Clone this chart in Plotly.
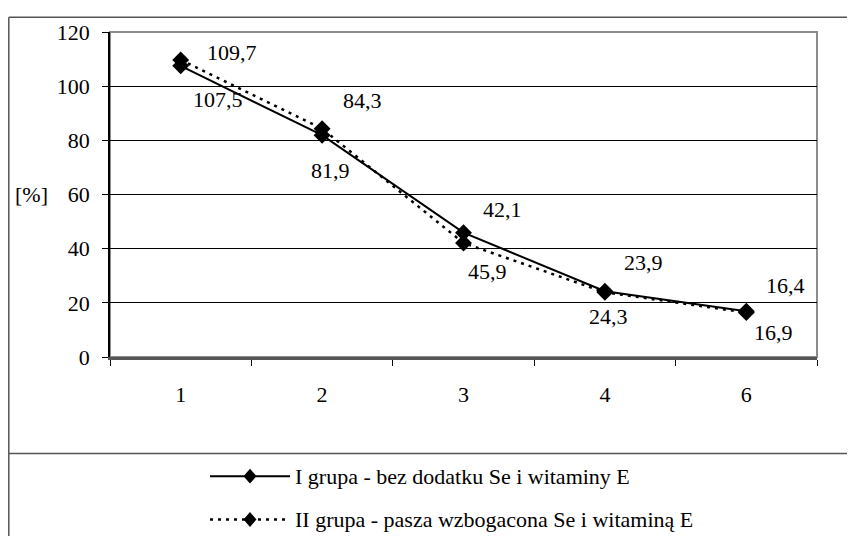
import plotly.graph_objects as go

# ---- data ----
categories = ["1", "2", "3", "4", "6"]
series_I_name = "I grupa - bez dodatku Se i witaminy E"
series_II_name = "II grupa - pasza wzbogacona Se i witaminą E"
series_I = [107.5, 81.9, 45.9, 24.3, 16.9]
series_II = [109.7, 84.3, 42.1, 23.9, 16.4]
y_ticks = [0, 20, 40, 60, 80, 100, 120]
y_label = "[%]"

# ---- layout constants (figure pixels; page body adds an 8px offset) ----
OFF = 8
W, H = 855 - OFF, 544 - 2 * OFF
L, R, T, B = 110 - OFF, 817 - OFF, 27 - OFF, 357 - OFF
PW, PH = R - L, B - T
FONT = "Liberation Serif"
FS = 22


def px(x):  # reference-image x -> paper
    return (x - OFF - L) / PW


def py(y):  # reference-image y -> paper
    return (B - (y - OFF)) / PH


fig = go.Figure()
fig.add_trace(go.Scatter(
    x=categories, y=series_I, name=series_I_name, mode="lines+markers",
    line=dict(color="black", width=2),
    marker=dict(symbol="diamond", size=13, color="black"),
    showlegend=False, cliponaxis=False))
fig.add_trace(go.Scatter(
    x=categories, y=series_II, name=series_II_name, mode="lines+markers",
    line=dict(color="black", width=2.5, dash="3px,5px"),
    marker=dict(symbol="diamond", size=13, color="black"),
    showlegend=False, cliponaxis=False))

# data labels (offsets in px: dx right, dy down)
off_I = [(37, 34), (8, 35), (24, 39), (4, 25), (27, 21)]
off_II = [(51, -7), (40, -28), (39, -33), (39, -30), (39, -27)]
ann = []
for vals, offs in ((series_I, off_I), (series_II, off_II)):
    for i, (v, (dx, dy)) in enumerate(zip(vals, offs)):
        ann.append(dict(x=i, y=v, xref="x", yref="y",
                        text=f"{v:.1f}".replace(".", ","), showarrow=False,
                        xanchor="center", yanchor="middle",
                        xshift=dx, yshift=-dy,
                        font=dict(family=FONT, size=FS, color="black")))

ann.append(dict(x=px(31), y=60, xref="paper", yref="y", text=y_label,
                xanchor="center", yanchor="middle",
                showarrow=False, font=dict(family=FONT, size=FS, color="black")))

# legend (drawn manually)
rows = [(478, series_I_name, "solid"), (522, series_II_name, "dot")]
shapes = []
for yy, name, dash in rows:
    shapes.append(dict(type="line", xref="paper", yref="paper",
                       x0=px(210), x1=px(290), y0=py(yy), y1=py(yy),
                       line=dict(color="black", width=2 if dash == "solid" else 2.5,
                                 dash="solid" if dash == "solid" else "3px,5px")))
    hw, hh = 6.5 / PW, 7.5 / PH
    cx, cy = px(250), py(yy)
    shapes.append(dict(type="path", xref="paper", yref="paper",
                       path=f"M{cx-hw},{cy} L{cx},{cy+hh} L{cx+hw},{cy} L{cx},{cy-hh} Z",
                       fillcolor="black", line=dict(color="black", width=0)))
    ann.append(dict(x=px(293), y=py(yy), xref="paper", yref="paper", text=name,
                    xanchor="left", yanchor="middle", showarrow=False,
                    font=dict(family=FONT, size=FS, color="black")))

# outer frame lines
frame_col = "#555555"
shapes += [
    dict(type="line", xref="paper", yref="paper", x0=px(8.8), x1=px(870), y0=py(12), y1=py(12),
         line=dict(color=frame_col, width=1.5)),
    dict(type="line", xref="paper", yref="paper", x0=px(8.8), x1=px(8.8), y0=py(12), y1=py(560),
         line=dict(color=frame_col, width=1.5)),
    dict(type="line", xref="paper", yref="paper", x0=px(8.8), x1=px(870), y0=py(455), y1=py(455),
         line=dict(color=frame_col, width=1.5)),
    # plot area border (grey)
    dict(type="rect", xref="paper", yref="paper", x0=0, x1=1, y0=0, y1=1,
         line=dict(color="#8c8c8c", width=2), layer="below"),
]

fig.update_layout(
    width=W, height=H,
    margin=dict(l=L, r=W - R, t=T, b=H - B, pad=0),
    paper_bgcolor="white", plot_bgcolor="white",
    font=dict(family=FONT, size=FS, color="black"),
    annotations=ann, shapes=shapes,
    xaxis=dict(type="category", categoryorder="array", categoryarray=categories,
               range=[-0.5, len(categories) - 0.5],
               tickson="boundaries", ticks="outside", ticklen=6, tickcolor="black",
               tickwidth=1, showgrid=False, showline=True, linecolor="#555555",
               linewidth=2.5, ticklabelstandoff=16, zeroline=False,
               tickfont=dict(family=FONT, size=FS, color="black")),
    yaxis=dict(range=[0, 120], tickvals=y_ticks, ticks="outside", ticklen=6,
               tickcolor="black", showgrid=True, gridcolor="black", gridwidth=1,
               showline=True, linecolor="black", linewidth=1.5, zeroline=False,
               ticklabelstandoff=8,
               tickfont=dict(family=FONT, size=FS, color="black")),
)

fig.write_html("out.html")
